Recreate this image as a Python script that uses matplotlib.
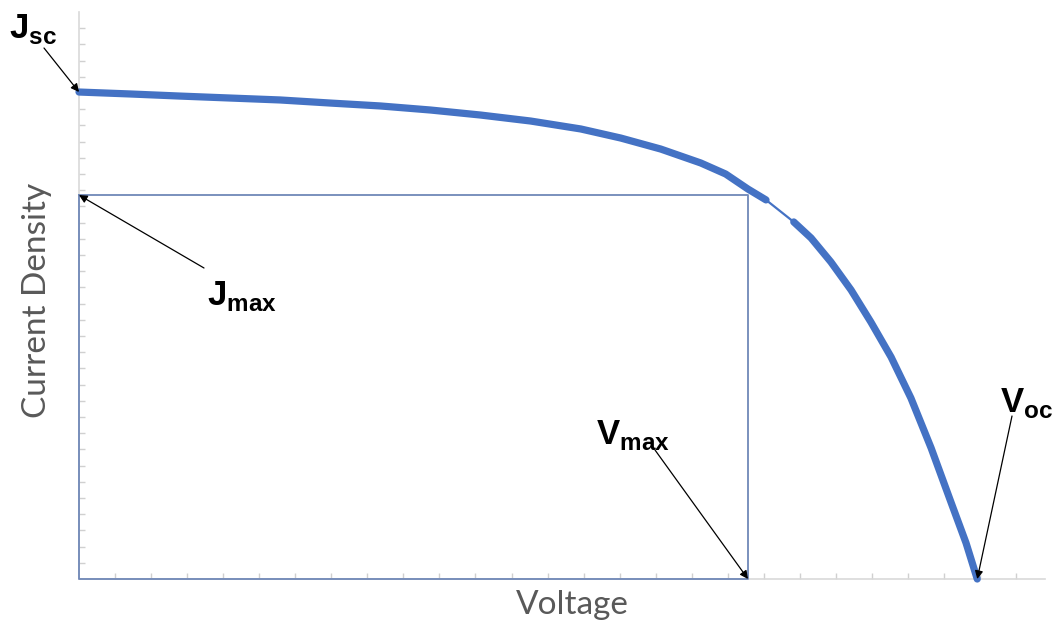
import numpy as np
import matplotlib.pyplot as plt

# J-V curve of a solar cell (arbitrary units)
voltage = [0.0, 1.42, 2.81, 4.19, 5.58, 6.97, 8.36, 9.75, 11.14, 12.53,
           13.92, 15.03, 16.14, 17.25, 17.94, 18.56, 19.06,
           19.83, 20.31, 20.86, 21.42, 21.97, 22.53, 23.08, 23.64, 24.19,
           24.61, 24.92]
current = [30.06, 29.94, 29.81, 29.69, 29.57, 29.38, 29.20, 28.95, 28.64, 28.27,
           27.78, 27.22, 26.54, 25.68, 25.00, 24.07, 23.40,
           22.04, 21.05, 19.57, 17.84, 15.86, 13.70, 11.17, 8.09, 4.75,
           2.22, 0.0]

j_sc = 30.06
j_max = 23.70
v_max = 18.56
v_oc = 24.92

plt.rcParams['mathtext.fontset'] = 'custom'
plt.rcParams['mathtext.bf'] = 'Liberation Sans:bold'
plt.rcParams['mathtext.rm'] = 'Liberation Sans:bold'

fig = plt.figure(figsize=(10.54, 6.28), dpi=100)
ax = fig.add_axes([79 / 1054, 49 / 628, 966 / 1054, 567 / 628])

ax.set_xlim(0, 26.8)
ax.set_ylim(0, 35)

# max power rectangle
ax.plot([0, v_max, v_max, 0, 0], [j_max, j_max, 0, 0, j_max],
        color='#7088b8', lw=1.3, clip_on=False, zorder=3)

# curve: thin line everywhere, thick where the markers are dense
v = np.array(voltage)
j = np.array(current)
ax.plot(v, j, color='#4472c4', lw=1.6, clip_on=False, zorder=4)
first = v <= 19.1
second = v >= 19.8
for part in [first, second]:
    ax.plot(v[part], j[part], color='#4472c4', lw=5.2, solid_capstyle='round',
            solid_joinstyle='round', clip_on=False, zorder=4)

ax.set_xticks(np.arange(1, 27))
ax.set_yticks(np.arange(1, 35))
ax.tick_params(direction='in', length=4, color='#d0d0d0', width=1,
               labelbottom=False, labelleft=False)
for s in ['top', 'right']:
    ax.spines[s].set_visible(False)
for s in ['left', 'bottom']:
    ax.spines[s].set_color('#d9d9d9')
    ax.spines[s].set_linewidth(1.2)

fig.text(572 / 1054, 1 - 605 / 628, 'Voltage', fontfamily='Lato', fontsize=24,
         color='#595959', ha='center', va='center')
fig.text(37 / 1054, 1 - 300 / 628, 'Current Density', fontfamily='Lato', fontsize=24,
         color='#595959', ha='center', va='center', rotation=90)

# annotations: (label, tip in data, text pos in fig px, arrow start in fig px)
arrow = dict(arrowstyle='-|>', color='black', lw=0.9, mutation_scale=12,
             shrinkA=0, shrinkB=0)
notes = [
    (r'$\mathbf{J}_{\mathbf{sc}}$', (0, j_sc), (9, 628 - 38), (44, 628 - 48)),
    (r'$\mathbf{J}_{\mathbf{max}}$', (0, j_max), (207, 628 - 305), (204, 628 - 268)),
    (r'$\mathbf{V}_{\mathbf{max}}$', (v_max, 0), (596, 628 - 444), (655, 628 - 450)),
    (r'$\mathbf{V}_{\mathbf{oc}}$', (v_oc, 0), (1000, 628 - 412), (1012, 628 - 416)),
]
for label, tip, tpos, apos in notes:
    fig.text(tpos[0] / 1054, tpos[1] / 628, label, fontsize=25,
             ha='left', va='baseline', color='black')
    ax.annotate('', xy=tip, xycoords='data', xytext=apos,
                textcoords='figure pixels', arrowprops=arrow,
                annotation_clip=False, zorder=5)

fig.savefig('out.png', dpi=100)
